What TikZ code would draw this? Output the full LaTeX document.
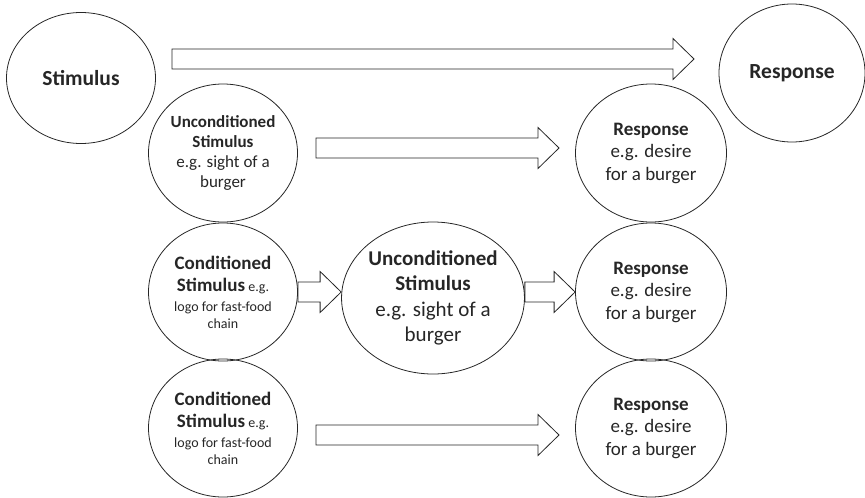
\documentclass[tikz,border=0pt]{standalone}
\usepackage{fontspec}
\setmainfont{Carlito}
\usetikzlibrary{shapes.geometric,calc}
\begin{document}
\begin{tikzpicture}[x=1pt, y=-1pt,
    oval/.style={ellipse, draw=black!85, line width=0.8pt, inner sep=0pt, align=center, text=black!85},
    blockarrow/.style={draw=black!85, line width=0.8pt, to path={let \p1=(\tikztostart), \p2=(\tikztotarget) in
      (\x1,\y1+10pt) -- (\x2-21pt,\y1+10pt) -- (\x2-21pt,\y1+20.5pt) -- (\x2,\y1)
      -- (\x2-21pt,\y1-20.5pt) -- (\x2-21pt,\y1-10pt) -- (\x1,\y1-10pt) -- cycle}}]
    \useasboundingbox (0,0) rectangle (865,498);
    % classical conditioning
    \node[oval, minimum width=149pt, minimum height=131pt, font=\fontsize{21.5}{25}\selectfont\bfseries] (stim) at (81,78) {Stimulus};
    \node[oval, minimum width=146pt, minimum height=138pt, font=\fontsize{21.5}{25}\selectfont\bfseries] (resp) at (792,73) {Response};
    \node[oval, minimum width=149pt, minimum height=138pt, font=\fontsize{17}{20}\selectfont] (us2) at (223,153) {\textbf{Unconditioned}\\\textbf{Stimulus}\\e.g. sight of a\\burger};
    \node[oval, minimum width=151pt, minimum height=138pt, font=\fontsize{19}{22.5}\selectfont] (r2) at (651,153) {\textbf{Response}\\e.g. desire\\for a burger};
    \node[oval, minimum width=149pt, minimum height=138pt, font=\fontsize{14}{17}\selectfont] (cs3) at (223,292) {{\fontsize{19}{22}\selectfont\bfseries Conditioned}\\[5pt]{\fontsize{19}{22}\selectfont\bfseries Stimulus} e.g.\\[3pt]logo for fast-food\\chain};
    \node[oval, minimum width=150pt, minimum height=152pt, font=\fontsize{21}{25.5}\selectfont] (us3) at (433,298) {\textbf{Unconditioned}\\\textbf{Stimulus}\\e.g. sight of a\\burger};
    \node[oval, minimum width=151pt, minimum height=138pt, font=\fontsize{19}{22.5}\selectfont] (r3) at (651,292) {\textbf{Response}\\e.g. desire\\for a burger};
    \node[oval, minimum width=149pt, minimum height=138pt, font=\fontsize{14}{17}\selectfont] (cs4) at (223,428) {{\fontsize{19}{22}\selectfont\bfseries Conditioned}\\[5pt]{\fontsize{19}{22}\selectfont\bfseries Stimulus} e.g.\\[3pt]logo for fast-food\\chain};
    \node[oval, minimum width=151pt, minimum height=138pt, font=\fontsize{19}{22.5}\selectfont] (r4) at (651,428) {\textbf{Response}\\e.g. desire\\for a burger};

    \coordinate (a1) at (172,59); \coordinate (b1) at (694,59);
    \coordinate (a2) at (316,148); \coordinate (b2) at (559,148);
    \coordinate (a4) at (316,435); \coordinate (b4) at (559,435);

    \draw[blockarrow] (a1) to (b1);
    \draw[blockarrow] (a2) to (b2);
    \draw[blockarrow] (cs3.east) to (us3.west);
    \draw[blockarrow] (us3.east |- cs3.east) to (r3.west);
    \draw[blockarrow] (a4) to (b4);
\end{tikzpicture}
\end{document}
